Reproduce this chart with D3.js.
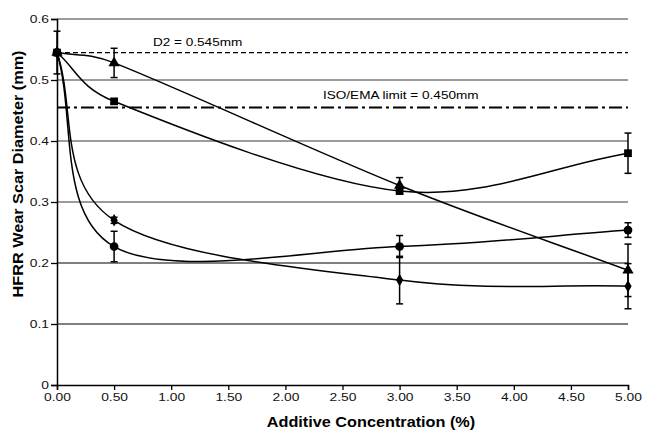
<!DOCTYPE html>
<html><head><meta charset="utf-8">
<script src="https://cdn.jsdelivr.net/npm/d3@7"></script>
<style>body{margin:0;background:#fff}svg{font-family:"Liberation Sans",Arial,sans-serif}</style>
</head><body><svg id="c" width="645" height="431"></svg>
<script>
const xValues = [0, 0.5, 3, 5];
const squareVals = [0.545, 0.465, 0.318, 0.380];
const squareErr = [0.000, 0.004, 0.005, 0.033];
const triangleVals = [0.545, 0.528, 0.327, 0.188];
const triangleErr = [0.000, 0.024, 0.013, 0.043];
const diamondVals = [0.545, 0.270, 0.172, 0.162];
const diamondErr = [0.000, 0.005, 0.039, 0.037];
const circleVals = [0.545, 0.227, 0.227, 0.254];
const circleErr = [0.035, 0.025, 0.018, 0.012];
const xTicks = [0, 0.5, 1, 1.5, 2, 2.5, 3, 3.5, 4, 4.5, 5];
const yTicks = [0, 0.1, 0.2, 0.3, 0.4, 0.5, 0.6];
const d2Value = 0.545, d2Label = "D2 = 0.545mm";
const isoValue = 0.455, isoLabel = "ISO/EMA limit = 0.450mm";

const svg = d3.select("#c");
const x = d3.scaleLinear().domain([0, 5]).range([57, 628]);
const y = d3.scaleLinear().domain([0, 0.6]).range([385, 19]);

function stretch(sel, k) {
  sel.each(function() {
    const w = this.getComputedTextLength();
    d3.select(this).attr("textLength", w * k).attr("lengthAdjust", "spacingAndGlyphs");
  });
}

// Excel-style smoothed line through pixel points
function excelSmooth(P) {
  const dist = (a, b) => Math.hypot(a[0] - b[0], a[1] - b[1]);
  let d = `M${P[0][0]},${P[0][1]}`;
  for (let i = 0; i < P.length - 1; i++) {
    const p1 = P[i], p2 = P[i + 1];
    const p0 = i > 0 ? P[i - 1] : p1;
    const p3 = i + 2 < P.length ? P[i + 2] : p2;
    const d12 = dist(p1, p2), d02 = dist(p0, p2), d13 = dist(p1, p3);
    let f = (p0 === p1) ? 1 / 3 : 1 / 6;
    let g = (p2 === p3) ? 1 / 3 : 1 / 6;
    if (d02 / 6 >= d12 / 2 && d02 > 0) f = d12 / d02 / 2;
    if (d13 / 6 >= d12 / 2 && d13 > 0) g = d12 / d13 / 2;
    const c1 = [p1[0] + f * (p2[0] - p0[0]), p1[1] + f * (p2[1] - p0[1])];
    const c2 = [p2[0] - g * (p3[0] - p1[0]), p2[1] - g * (p3[1] - p1[1])];
    d += `C${c1[0]},${c1[1]} ${c2[0]},${c2[1]} ${p2[0]},${p2[1]}`;
  }
  return d;
}

// gridlines
svg.append("g").selectAll("line").data(yTicks.filter(d => d > 0)).join("line")
  .attr("x1", x(0)).attr("x2", x(5)).attr("y1", d => y(d)).attr("y2", d => y(d))
  .attr("stroke", d => d >= 0.3 ? "#7a7a7a" : "#000")
  .attr("stroke-width", d => d >= 0.3 ? 1.6 : 1.1);

// axes
const xAxis = svg.append("g").attr("transform", `translate(0,${y(0)})`)
  .call(d3.axisBottom(x).tickValues(xTicks).tickFormat(d3.format(".2f")).tickSizeOuter(0).tickSize(5).tickPadding(3));
const yAxis = svg.append("g").attr("transform", `translate(${x(0)},0)`)
  .call(d3.axisLeft(y).tickValues(yTicks).tickFormat(d => d === 0 ? "0" : d3.format(".1f")(d)).tickSizeOuter(0).tickSize(6).tickPadding(2));
[xAxis, yAxis].forEach(g => {
  g.select(".domain").attr("stroke", "#000").attr("stroke-width", 1.5);
  g.selectAll(".tick line").attr("stroke", "#000").attr("stroke-width", 1.3);
  g.selectAll("text").attr("font-size", 11.5).attr("fill", "#111")
    .attr("font-family", "'Liberation Sans', Arial, sans-serif");
});
xAxis.selectAll("text").call(stretch, 1.2);
yAxis.selectAll("text").attr("text-anchor", "end").call(stretch, 1.2);

// reference lines
svg.append("line").attr("x1", x(0)).attr("x2", x(5)).attr("y1", y(d2Value)).attr("y2", y(d2Value))
  .attr("stroke", "#000").attr("stroke-width", 1.3).attr("stroke-dasharray", "5,3");
svg.append("line").attr("x1", x(0)).attr("x2", x(5)).attr("y1", y(isoValue)).attr("y2", y(isoValue))
  .attr("stroke", "#000").attr("stroke-width", 2).attr("stroke-dasharray", "13,4,3,4");
svg.append("text").attr("x", 153).attr("y", y(d2Value) - 6.5).attr("font-size", 11.3).text(d2Label).call(stretch, 1.2);
svg.append("text").attr("x", 323).attr("y", y(isoValue) - 8).attr("font-size", 11.3).text(isoLabel).call(stretch, 1.2);

const series = [
  {vals: triangleVals, err: triangleErr, sym: d3.symbolTriangle, size: 55},
  {vals: diamondVals, err: diamondErr, sym: d3.symbolDiamond, size: 45},
  {vals: circleVals, err: circleErr, sym: d3.symbolCircle, size: 60},
  {vals: squareVals, err: squareErr, sym: d3.symbolSquare, size: 60},
];
series.forEach(s => {
  const pts = xValues.map((xv, i) => [xv, s.vals[i], s.err[i]]);
  const px = pts.map(p => [x(p[0]), y(p[1])]);
  svg.append("path").attr("d", excelSmooth(px)).attr("fill", "none").attr("stroke", "#000").attr("stroke-width", 1.5);
  const eb = svg.append("g").attr("stroke", "#000").attr("stroke-width", 1.5);
  pts.filter(p => p[2] > 0).forEach(p => {
    const cx = x(p[0]);
    eb.append("line").attr("x1", cx).attr("x2", cx).attr("y1", y(p[1] - p[2])).attr("y2", y(p[1] + p[2]));
    [p[1] - p[2], p[1] + p[2]].forEach(v =>
      eb.append("line").attr("x1", cx - 3.5).attr("x2", cx + 3.5).attr("y1", y(v)).attr("y2", y(v)));
  });
  svg.append("g").selectAll("path").data(pts).join("path")
    .attr("transform", d => `translate(${x(d[0])},${y(d[1])})`)
    .attr("d", d3.symbol().type(s.sym).size(s.size)).attr("fill", "#000");
});

// titles
svg.append("text").attr("x", 371).attr("y", 427).attr("text-anchor", "middle")
  .attr("font-size", 14).attr("font-weight", "bold").text("Additive Concentration (%)").call(stretch, 1.16);
svg.append("text").attr("transform", `translate(23,174) rotate(-90)`).attr("text-anchor", "middle")
  .attr("font-size", 14).attr("font-weight", "bold").text("HFRR Wear Scar Diameter (mm)").call(stretch, 1.16);
</script></body></html>
